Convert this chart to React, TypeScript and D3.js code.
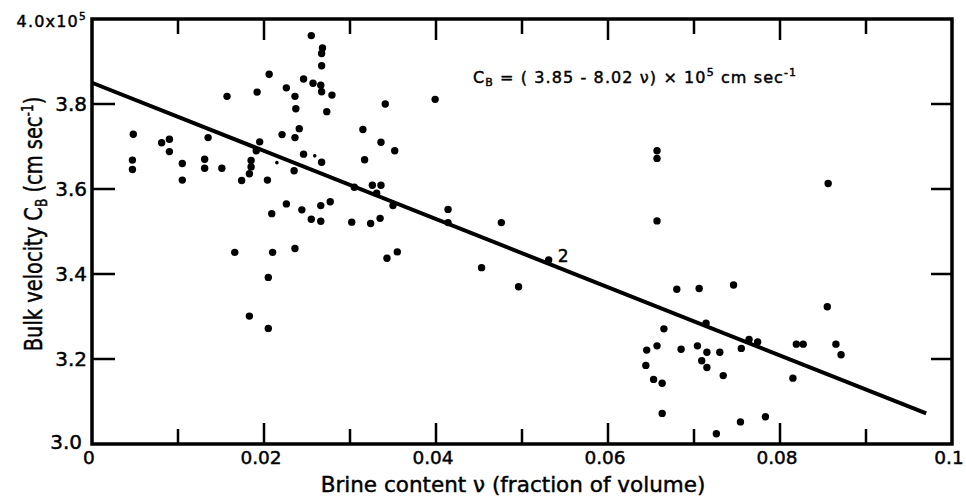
import React from "react";
import * as d3 from "d3";

// Brine content (fraction of volume) and bulk velocity (x 10^5 cm/s)
const brine: number[] = [
  0.0048, 0.0047, 0.0047, 0.0081, 0.0090, 0.0090, 0.0105, 0.0105, 0.0135, 0.0131,
  0.0131, 0.0151, 0.0157, 0.0174, 0.0183, 0.0185, 0.0185, 0.0191, 0.0195, 0.0192,
  0.0206, 0.0204, 0.0221, 0.0226, 0.0236, 0.0237, 0.0241, 0.0236, 0.0246, 0.0235,
  0.0246, 0.0255, 0.0257, 0.0268, 0.0267, 0.0267, 0.0266, 0.0267, 0.0279, 0.0273,
  0.0267, 0.0226, 0.0209, 0.0244, 0.0266, 0.0277, 0.0255, 0.0266, 0.0166, 0.0210,
  0.0236, 0.0205, 0.0183, 0.0205,
  0.0341, 0.0399, 0.0315, 0.0336, 0.0352, 0.0317, 0.0326, 0.0336, 0.0305, 0.0331,
  0.0350, 0.0302, 0.0324, 0.0335, 0.0414, 0.0414, 0.0476, 0.0343, 0.0355, 0.0453,
  0.0496, 0.0531,
  0.0657, 0.0657, 0.0657, 0.0680, 0.0706, 0.0746, 0.0665, 0.0714, 0.0645, 0.0657,
  0.0685, 0.0704, 0.0715, 0.0730, 0.0755, 0.0764, 0.0774, 0.0644, 0.0709, 0.0715,
  0.0653, 0.0663, 0.0734, 0.0663, 0.0754, 0.0726, 0.0783, 0.0856, 0.0855, 0.0819,
  0.0827, 0.0865, 0.0871, 0.0815,
];
const velocity: number[] = [
  3.729, 3.668, 3.646, 3.709, 3.717, 3.688, 3.660, 3.621, 3.721, 3.670,
  3.649, 3.649, 3.818, 3.620, 3.636, 3.652, 3.667, 3.690, 3.711, 3.828,
  3.870, 3.621, 3.728, 3.838, 3.818, 3.789, 3.742, 3.721, 3.682, 3.643,
  3.859, 3.961, 3.849, 3.932, 3.919, 3.890, 3.844, 3.829, 3.821, 3.782,
  3.663, 3.565, 3.542, 3.551, 3.561, 3.570, 3.529, 3.524, 3.451, 3.451,
  3.460, 3.392, 3.301, 3.272,
  3.800, 3.811, 3.740, 3.710, 3.690, 3.669, 3.609, 3.609, 3.604, 3.590,
  3.561, 3.522, 3.519, 3.531, 3.552, 3.521, 3.521, 3.437, 3.452, 3.415,
  3.370, 3.433,
  3.690, 3.672, 3.525, 3.364, 3.366, 3.374, 3.271, 3.284, 3.221, 3.231,
  3.223, 3.231, 3.216, 3.216, 3.225, 3.246, 3.240, 3.185, 3.196, 3.180,
  3.152, 3.143, 3.161, 3.072, 3.052, 3.024, 3.064, 3.613, 3.323, 3.235,
  3.235, 3.235, 3.210, 3.155,
];
// faint small dots
const minorBrine: number[] = [0.0215, 0.0259];
const minorVelocity: number[] = [3.662, 3.678];

// labelled point (two coincident observations)
const countLabelBrine = 0.0531;
const countLabelVelocity = 3.433;
const countLabel = "2";

// regression C_B = (3.85 - 8.02 v) x 10^5
const fitIntercept = 3.85;
const fitSlope = -8.02;
const fitRange: [number, number] = [0, 0.097];

const xTicks: number[] = [0.01, 0.02, 0.03, 0.04, 0.05, 0.06, 0.07, 0.08, 0.09];
const xTickLabels: { v: number; t: string }[] = [
  { v: 0, t: "0" },
  { v: 0.02, t: "0.02" },
  { v: 0.04, t: "0.04" },
  { v: 0.06, t: "0.06" },
  { v: 0.08, t: "0.08" },
  { v: 0.1, t: "0.1" },
];
const yTicks: number[] = [3.2, 3.4, 3.6, 3.8];
const yTickLabels: { v: number; t: string }[] = [
  { v: 3.0, t: "3.0" },
  { v: 3.2, t: "3.2" },
  { v: 3.4, t: "3.4" },
  { v: 3.6, t: "3.6" },
  { v: 3.8, t: "3.8" },
];

export default function App() {
  const W = 966;
  const H = 504;
  const x = d3.scaleLinear().domain([0, 0.1]).range([92, 952]);
  const y = d3.scaleLinear().domain([3.0, 4.0]).range([444, 19]);
  const font = "'DejaVu Sans', 'Liberation Sans', sans-serif";
  const fitLine = d3
    .line<number>()
    .x((d) => x(d))
    .y((d) => y(fitIntercept + fitSlope * d))(fitRange);

  const isMajor = (v: number) => Math.abs(Math.round(v * 100) % 2) === 0;
  const thick = { stroke: "#000", strokeWidth: 0.45 };

  return (
    <svg
      width={W}
      height={H}
      style={{ position: "absolute", left: 0, top: 0, display: "block", background: "#fff" }}
      fontFamily={font}
    >
      <rect x={0} y={0} width={W} height={H} fill="#fff" />
      {/* frame */}
      <rect
        x={x(0)}
        y={y(4.0)}
        width={x(0.1) - x(0)}
        height={y(3.0) - y(4.0)}
        fill="none"
        stroke="#000"
        strokeWidth={3.5}
      />
      {/* x ticks bottom and top */}
      {xTicks.map((t) => {
        const len = isMajor(t) ? 21 : 15;
        return (
          <g key={"xt" + t} stroke="#000" strokeWidth={2.5}>
            <line x1={x(t)} x2={x(t)} y1={y(3.0)} y2={y(3.0) - len} />
            <line x1={x(t)} x2={x(t)} y1={y(4.0)} y2={y(4.0) + len} />
          </g>
        );
      })}
      {/* y ticks left and right */}
      {yTicks.map((t) => (
        <g key={"yt" + t} stroke="#000" strokeWidth={2.5}>
          <line x1={x(0)} x2={x(0) + 23} y1={y(t)} y2={y(t)} />
          <line x1={x(0.1)} x2={x(0.1) - 21} y1={y(t)} y2={y(t)} />
        </g>
      ))}
      {/* tick labels */}
      {xTickLabels.map((d) => (
        <text
          key={"xl" + d.v}
          x={x(d.v) - 3}
          y={464}
          textAnchor="middle"
          fontSize={18.5}
          fill="#000"
          {...thick}
        >
          {d.t}
        </text>
      ))}
      {yTickLabels.map((d) => (
        <text
          key={"yl" + d.v}
          x={d.v === 3.0 ? 82 : 87}
          y={d.v === 3.0 ? 448.5 : y(d.v) + 7.3}
          textAnchor="end"
          fontSize={20}
          fill="#000"
          {...thick}
        >
          {d.t}
        </text>
      ))}
      <text x={16.5} y={27} fontSize={16} letterSpacing={1.2} fill="#000" {...thick}>
        4.0x10
        <tspan fontSize={10.5} dy={-7} letterSpacing={0}>
          5
        </tspan>
      </text>
      {/* axis titles */}
      <text x={513} y={492} textAnchor="middle" fontSize={21.5} fill="#000" {...thick}>
        Brine content ν (fraction of volume)
      </text>
      <text
        transform={`translate(42, 224) rotate(-90) scale(0.81, 1)`}
        textAnchor="middle"
        fontSize={24}
        fill="#000"
        {...thick}
      >
        Bulk velocity C
        <tspan fontSize={15} dy={5}>
          B
        </tspan>
        <tspan dy={-5}> (cm sec</tspan>
        <tspan fontSize={15} dy={-9}>
          -1
        </tspan>
        <tspan dy={9}>)</tspan>
      </text>
      {/* equation */}
      <text x={473} y={83.3} fontSize={16} letterSpacing={1.1} fill="#000" {...thick}>
        C
        <tspan fontSize={11} dy={3}>
          B
        </tspan>
        <tspan dy={-3}> = ( 3.85 - 8.02 ν) × 10</tspan>
        <tspan fontSize={11} dy={-7}>
          5
        </tspan>
        <tspan dy={7}> cm sec</tspan>
        <tspan fontSize={11} dy={-7}>
          -1
        </tspan>
      </text>
      {/* regression line */}
      <path d={fitLine ?? ""} fill="none" stroke="#000" strokeWidth={4} />
      {/* points */}
      {brine.map((b, i) => (
        <circle key={"p" + i} cx={x(b)} cy={y(velocity[i])} r={3.7} fill="#000" />
      ))}
      {minorBrine.map((b, i) => (
        <circle key={"m" + i} cx={x(b)} cy={y(minorVelocity[i])} r={1.8} fill="#000" />
      ))}
      <text
        x={x(countLabelBrine) + 9}
        y={y(countLabelVelocity) + 2.5}
        fontSize={17}
        fill="#000"
        {...thick}
      >
        {countLabel}
      </text>
    </svg>
  );
}
